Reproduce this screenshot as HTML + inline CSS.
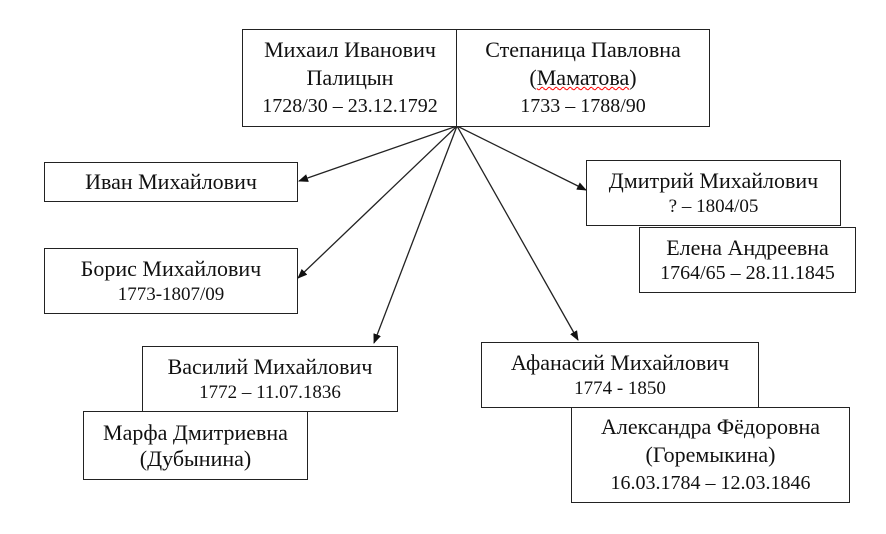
<!DOCTYPE html>
<html><head><meta charset="utf-8"><style>
body{margin:0;background:#fff;width:886px;height:534px;position:relative;overflow:hidden;font-family:"Liberation Serif","DejaVu Serif","Times New Roman",serif;color:#111}
.b{position:absolute;box-sizing:border-box;border:1.5px solid #222;background:#fff;display:flex;flex-direction:column;justify-content:center;align-items:center;text-align:center;font-family:"Liberation Serif","DejaVu Serif","Times New Roman",serif;font-size:22px;line-height:26px;white-space:nowrap}
.d{font-size:19px;line-height:25px}
svg{position:absolute;left:0;top:0}
</style></head><body>
<svg width="886" height="534">
<defs><marker id="a" markerWidth="10" markerHeight="8" refX="9" refY="4" orient="auto" markerUnits="userSpaceOnUse"><path d="M0,0 L10,4 L0,8 z" fill="#111"/></marker></defs>
<g stroke="#222" stroke-width="1.3" fill="none" marker-end="url(#a)">
<line x1="457" y1="126" x2="299" y2="181"/>
<line x1="457" y1="126" x2="298" y2="278"/>
<line x1="457" y1="126" x2="374" y2="343"/>
<line x1="457" y1="126" x2="586" y2="190"/>
<line x1="457" y1="126" x2="578" y2="340"/>
</g></svg>
<div class="b" style="left:242px;top:29px;width:216px;height:98px;line-height:28px"><div>Михаил Иванович</div><div>Палицын</div><div class="d" style="font-size:20px;line-height:28px">1728/30 – 23.12.1792</div></div>
<div class="b" style="left:456px;top:29px;width:254px;height:98px;line-height:28px"><div>Степаница Павловна</div><div>(<span style="text-decoration:underline wavy red;text-decoration-thickness:1px">Маматова</span>)</div><div class="d" style="font-size:20px;line-height:28px">1733 – 1788/90</div></div>
<div class="b" style="left:44px;top:162px;width:254px;height:40px">Иван Михайлович</div>
<div class="b" style="left:44px;top:248px;width:254px;height:66px"><div>Борис Михайлович</div><div class="d">1773-1807/09</div></div>
<div class="b" style="left:142px;top:346px;width:256px;height:66px"><div>Василий Михайлович</div><div class="d">1772 – 11.07.1836</div></div>
<div class="b" style="left:83px;top:411px;width:225px;height:69px"><div>Марфа Дмитриевна</div><div>(Дубынина)</div></div>
<div class="b" style="left:586px;top:160px;width:255px;height:66px"><div>Дмитрий Михайлович</div><div class="d">? – 1804/05</div></div>
<div class="b" style="left:639px;top:227px;width:217px;height:66px"><div>Елена Андреевна</div><div class="d" style="font-size:20px">1764/65 – 28.11.1845</div></div>
<div class="b" style="left:481px;top:342px;width:278px;height:66px"><div>Афанасий Михайлович</div><div class="d">1774 - 1850</div></div>
<div class="b" style="left:571px;top:407px;width:279px;height:96px;line-height:28px"><div>Александра Фёдоровна</div><div>(Горемыкина)</div><div class="d" style="font-size:20px;line-height:28px">16.03.1784 – 12.03.1846</div></div>
</body></html>
